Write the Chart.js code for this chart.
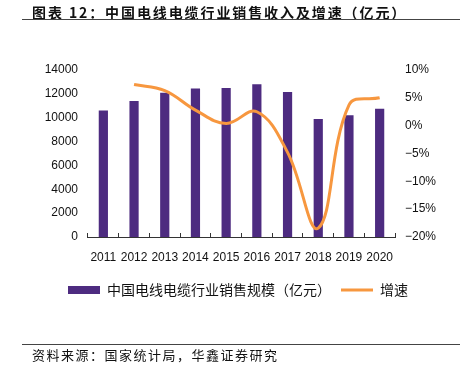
<!DOCTYPE html>
<html>
<head>
<meta charset="utf-8">
<script src="https://cdn.jsdelivr.net/npm/chart.js@4"></script>
<style>
  html, body { margin: 0; padding: 0; background: #fff; }
  #wrap { position: relative; width: 460px; height: 367px; overflow: hidden; }
  #title { position: absolute; left: 32px; top: 2px; font: bold 14px "Noto Sans CJK SC", sans-serif; letter-spacing: 1.9px; color: #111; white-space: nowrap; }
  #rule1 { position: absolute; left: 22px; top: 19px; width: 438px; height: 1px; background: #444; }
  #rule2 { position: absolute; left: 22px; top: 344px; width: 438px; height: 1px; background: #444; }
  #source { position: absolute; left: 32px; top: 345px; font: 13px "Noto Sans CJK SC", sans-serif; letter-spacing: 1.5px; color: #111; white-space: nowrap; }
  canvas { position: absolute; left: 0; top: 0; }
</style>
</head>
<body>
<div id="wrap">
  <canvas id="c" width="460" height="367"></canvas>
  <div id="title">图表 12：中国电线电缆行业销售收入及增速（亿元）</div>
  <div id="rule1"></div>
  <div id="rule2"></div>
  <div id="source">资料来源：国家统计局，华鑫证券研究</div>
</div>
<script>
const years = ['2011','2012','2013','2014','2015','2016','2017','2018','2019','2020'];
const salesScale = [10600, 11400, 12100, 12450, 12500, 12800, 12150, 9900, 10200, 10750];
const growthRate = [null, 7.4, 6.3, 2.8, 0.4, 2.5, -4.8, -18.4, 3.7, 5.0];
const leftTicks = [0, 2000, 4000, 6000, 8000, 10000, 12000, 14000];
const rightTicks = [-20, -15, -10, -5, 0, 5, 10];
const seriesNames = ['中国电线电缆行业销售规模（亿元）', '增速'];

const PURPLE = '#4D2B80';
const ORANGE = '#F7973F';
const tickFont = { family: '"Liberation Sans", Arial, sans-serif', size: 12 };

new Chart(document.getElementById('c'), {
  data: {
    labels: years,
    datasets: [
      {
        type: 'bar',
        label: seriesNames[0],
        data: salesScale,
        backgroundColor: PURPLE,
        borderWidth: 0,
        barPercentage: 0.3,
        categoryPercentage: 1,
        yAxisID: 'y',
        pointStyle: 'rect',
        order: 2
      },
      {
        type: 'line',
        label: seriesNames[1],
        data: growthRate,
        borderColor: ORANGE,
        backgroundColor: ORANGE,
        borderWidth: 3,
        tension: 0.4,
        pointRadius: 0,
        yAxisID: 'y1',
        pointStyle: 'line',
        order: 1
      }
    ]
  },
  options: {
    responsive: false,
    animation: false,
    layout: { padding: { top: 70, left: 16, right: 0, bottom: 60 } },
    plugins: {
      tooltip: { enabled: false },
      legend: {
        position: 'bottom',
        labels: {
          usePointStyle: true,
          pointStyleWidth: 32,
          boxHeight: 8,
          padding: 10,
          color: '#111',
          font: { family: '"Noto Sans CJK SC", sans-serif', size: 14 },
          sort: (a, b) => a.datasetIndex - b.datasetIndex
        }
      }
    },
    scales: {
      x: {
        offset: true,
        grid: { display: true, drawOnChartArea: false, drawTicks: true, tickLength: -4, color: '#333', lineWidth: 1, offset: true },
        border: { display: true, color: '#333', width: 1 },
        ticks: { color: '#111', font: tickFont, padding: 17, maxRotation: 0, autoSkip: false },
        afterFit: (s) => { s.height = 36; }
      },
      y: {
        position: 'left',
        min: 0, max: 14000,
        afterBuildTicks: (s) => { s.ticks = leftTicks.map(v => ({ value: v })); },
        grid: { display: false, drawTicks: false },
        border: { display: false },
        ticks: { color: '#111', font: tickFont, padding: 10, callback: (v) => String(v) },
        afterFit: (s) => { s.width = 72; }
      },
      y1: {
        position: 'right',
        min: -20, max: 10,
        afterBuildTicks: (s) => { s.ticks = rightTicks.map(v => ({ value: v })); },
        grid: { display: false, drawTicks: false },
        border: { display: false },
        ticks: {
          color: '#111', font: tickFont, padding: 10,
          callback: (v) => (v < 0 ? '\u2212' + Math.abs(v) : v) + '%'
        },
        afterFit: (s) => { s.width = 65; }
      }
    }
  }
});
</script>
</body>
</html>
